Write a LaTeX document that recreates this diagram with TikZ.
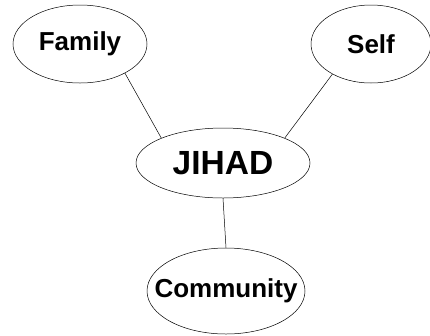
\documentclass[tikz,border=0pt]{standalone}
\usepackage{fontspec}
\setmainfont{Liberation Sans}
\usetikzlibrary{shapes.geometric}
\newcommand{\bubbletext}[1]{\makebox[0pt]{#1}}
\tikzset{
	bubble/.style={draw, ellipse, line width=0.5pt, inner sep=0pt, font=\bfseries\fontsize{26}{29}\selectfont},
	link/.style={line width=0.5pt}
}

\begin{document}
\begin{tikzpicture}[x=1pt, y=-1pt]
			%%%%% START %%%%%
			
			\useasboundingbox (0, 0) rectangle (430, 335);
			
			\node[bubble, minimum width=134pt, minimum height=78pt] (family) at (80, 44) {\bubbletext{Family}};
			\node[bubble, minimum width=120pt, minimum height=78pt] (self) at (371, 44) {\bubbletext{Self}};
			\node[bubble, minimum width=174pt, minimum height=70pt, font=\bfseries\fontsize{33.5}{37}\selectfont] (jihad) at (223, 163) {\bubbletext{JIHAD}};
			\node[bubble, minimum width=158pt, minimum height=86pt] (community) at (226, 291) {\bubbletext{Community}};
			
			\draw[link] (family.-33) -- (jihad.158);
			\draw[link] (self.-142) -- (jihad.22);
			\draw[link] (jihad.-90) -- (community.90);
			
			%%%%% END %%%%%
		\end{tikzpicture}
\end{document}
